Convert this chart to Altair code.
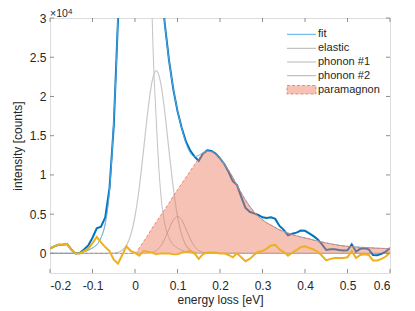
import numpy as np
import pandas as pd
import altair as alt

# energy grid (eV), step 0.01 from -0.2 to 0.6
energy = [round(-0.2 + 0.01 * i, 2) for i in range(81)]

elastic = [0, 0, 0, 0, 0, 0, 0,
           50, 200, 400, 700, 1100, 2000, 3800, 8000, 17000, 31000, 64000, 108000, 145000,
           160000,
           145000, 108000, 64000, 31000, 17000, 8000, 3800, 2000, 1100, 700, 400, 200, 50] + [0] * 47

phonon1 = [0] * 13 + [2, 10, 40, 133, 393, 1020, 2350, 4730, 8400, 13120, 18050, 21860, 23300,
                      21860, 18050, 13120, 8400, 4730, 2350, 1020, 393, 133, 40, 10, 2] + [0] * 43

phonon2 = [0] * 22 + [6, 30, 114, 355, 900, 1855, 3110, 4240, 4700, 4240, 3110, 1855, 900, 355,
                      114, 30, 6] + [0] * 42

paramagnon = [0] * 21 + [700, 1500, 2300, 3200, 4000, 4800, 5600, 6400, 7300, 8100,
                         8900, 9700, 10500, 11300, 12100, 12700, 13000, 12950, 12600, 12100,
                         11400, 10600, 9700, 8700, 7700, 6800, 6000, 5300, 4700, 4300,
                         3900, 3600, 3300, 3000, 2800, 2600, 2400, 2250, 2100, 1980,
                         1850, 1700, 1580, 1450, 1330, 1220, 1120, 1030, 960, 900,
                         860, 820, 780, 750, 720, 690, 660, 640, 620, 600]

fit = [0, 0, 0, 0, 0, 0, 0,
       50, 200, 400, 700, 1100, 2000, 3802, 8010, 17040, 31133, 64393, 109020, 147350,
       164730, 154100, 122626, 84380, 56174, 44655, 35560, 29305, 24630, 21040,
       18230, 15890, 14030, 12798, 12333, 12495, 12824, 13032, 12956,
       12600, 12100, 11400, 10600, 9700, 8700, 7700, 6800, 6000, 5300, 4700, 4300,
       3900, 3600, 3300, 3000, 2800, 2600, 2400, 2250, 2100, 1980,
       1850, 1700, 1580, 1450, 1330, 1220, 1120, 1030, 960, 900,
       860, 820, 780, 750, 720, 690, 660, 640, 620, 600]

residual = [600, 900, 1100, 1100, 1200, 500, 0, 0, 300, 600,
            1300, 2100, 1400, 800, 300, -800, -1300, -200, 900, 300,
            100, -300, 300, 200, 100, -100, 0, 0, 0, -100,
            -100, 100, 200, 300, 0, -700, -100, 100, 100, 100,
            0, 0, -200, -500, 0, -500, -1000, -700, -200, 200,
            300, 600, 1000, 1100, 500, 200, -300, 100, 400, 800,
            900, 700, 500, 200, -300, -900, -700, -600, -600, -600,
            -500, 300, -600, -200, -100, -200, -900, -900, -700, -400,
            100]

data = [600, 900, 1100, 1100, 1200, 500, 0, 50, 500, 1000,
        2000, 3200, 3400, 4600, 8310, 16240, 29830, 64190, 109920, 147650,
        164830, 153800, 122930, 84580, 56270, 44560, 35560, 29300, 24630, 20940,
        18130, 15990, 14230, 13100, 12330, 11800, 12720, 13130, 13060, 12700,
        12100, 11400, 10400, 9200, 8700, 7200, 5800, 5300, 5100, 4900,
        4600, 4500, 4600, 4400, 3500, 3000, 2300, 2500, 2650, 2900,
        2880, 2550, 2200, 1780, 1150, 430, 520, 520, 430, 360,
        400, 1160, 220, 580, 650, 520, -210, -240, -60, 220,
        700]

x_ticks = [-0.2, -0.1, 0.0, 0.1, 0.2, 0.3, 0.4, 0.5, 0.6]
y_ticks = [0, 5000, 10000, 15000, 20000, 25000, 30000]

df = pd.DataFrame({
    "E": energy, "elastic": elastic, "ph1": phonon1, "ph2": phonon2,
    "para": paramagnon, "fit": fit, "res": residual, "data": data,
})

W, H = 340, 255
FONT = "Liberation Sans"
TXT = "#262626"
AX = "#8f8f8f"

xs = alt.Scale(domain=[-0.2, 0.6], nice=False, zero=False)
ys = alt.Scale(domain=[-2500, 30000], nice=False, zero=False)

x_axis = alt.Axis(values=x_ticks, ticks=False, tickSize=0, domain=False, grid=False,
                  labelFont=FONT, labelFontSize=12, labelColor=TXT, labelPadding=7,
                  labelExpr="datum.value < -0.001 ? '-' + format(-datum.value, '.1f') : (abs(datum.value) < 0.001 ? '0' : format(datum.value, '.1f'))",
                  title="energy loss [eV]", titleFont=FONT, titleFontSize=12, titleFontWeight="normal",
                  titleColor=TXT, titleY=21, titleBaseline="top")
y_axis = alt.Axis(values=y_ticks, ticks=False, tickSize=0, domain=False, grid=False,
                  labelFont=FONT, labelFontSize=12, labelColor=TXT, labelPadding=4,
                  labelExpr="datum.value == 0 ? '0' : format(datum.value / 10000, '~g')",
                  title="intensity [counts]", titleFont=FONT, titleFontSize=12, titleFontWeight="normal",
                  titleColor=TXT, titleX=-26, titleY=H / 2, titleAngle=270, titleBaseline="bottom")

base = alt.Chart(df)
X = alt.X("E:Q", scale=xs, axis=x_axis)


def Y(field):
    return alt.Y(f"{field}:Q", scale=ys, axis=y_axis)


def line(field, color, width, interp="linear", dash=None, opacity=1.0):
    kw = dict(color=color, strokeWidth=width, clip=True, interpolate=interp, opacity=opacity)
    if dash:
        kw["strokeDash"] = dash
    return base.mark_line(**kw).encode(x=X, y=Y(field))


layers = [
    line("elastic", "#b3b3b3", 0.8, "monotone"),
    line("ph1", "#c8c8c8", 1.2, "monotone"),
    line("ph2", "#a8a8a8", 0.8, "monotone"),
    line("data", "#0072BD", 2.0),
    line("fit", "#56aee6", 0.9, "monotone"),
    base.mark_area(color="#e8785a", opacity=0.45, clip=True, interpolate="monotone").encode(
        x=X, y=Y("para"), y2=alt.datum(0)),
    line("para", "#e8785a", 1.0, "monotone", dash=[3, 2], opacity=0.85),
    line("res", "#EDB120", 2.0),
]

# inward tick marks on all four sides
xt = alt.Chart(pd.DataFrame({"E": x_ticks}))
yt = alt.Chart(pd.DataFrame({"v": y_ticks}))
layers += [
    xt.mark_rule(color=AX, strokeWidth=1).encode(x=X, y=alt.value(H), y2=alt.value(H - 4)),
    xt.mark_rule(color=AX, strokeWidth=1).encode(x=X, y=alt.value(0), y2=alt.value(4)),
    yt.mark_rule(color=AX, strokeWidth=1).encode(y=Y("v"), x=alt.value(0), x2=alt.value(4)),
    yt.mark_rule(color=AX, strokeWidth=1).encode(y=Y("v"), x=alt.value(W), x2=alt.value(W - 4)),
]

# legend
one = alt.Chart(pd.DataFrame({"k": [0]}))
LX1, LX2, LT = 237, 266, 268
legend_items = [
    ("fit", 16.3, "#56aee6", 1.0),
    ("elastic", 30.3, "#b3b3b3", 1.0),
    ("phonon #1", 44.0, "#d4d4d4", 1.6),
    ("phonon #2", 57.7, "#b3b3b3", 1.0),
]
for label, yy, col, w in legend_items:
    layers.append(one.mark_rule(color=col, strokeWidth=w).encode(
        x=alt.value(LX1), x2=alt.value(LX2), y=alt.value(yy)))
    layers.append(one.mark_text(align="left", baseline="middle", font=FONT, fontSize=11, color=TXT).encode(
        x=alt.value(LT), y=alt.value(yy), text=alt.value(label)))
layers.append(one.mark_rect(fill="#e8785a", fillOpacity=0.45, stroke="#e8785a", strokeOpacity=0.8,
                            strokeDash=[3, 2], strokeWidth=1).encode(
    x=alt.value(LX1), x2=alt.value(LX2), y=alt.value(67.5), y2=alt.value(76)))
layers.append(one.mark_text(align="left", baseline="middle", font=FONT, fontSize=11, color=TXT).encode(
    x=alt.value(LT), y=alt.value(72), text=alt.value("paramagnon")))

# exponent label
layers.append(one.mark_text(align="left", baseline="alphabetic", font=FONT, fontSize=10.5, color=TXT).encode(
    x=alt.value(0), y=alt.value(-1.5), text=alt.value("×10")))
layers.append(one.mark_text(align="left", baseline="alphabetic", font=FONT, fontSize=8, color=TXT).encode(
    x=alt.value(18), y=alt.value(-4), text=alt.value("4")))

chart = alt.layer(*layers).properties(
    width=W, height=H,
    padding={"left": 42, "top": 10, "right": 10, "bottom": 36},
    autosize=alt.AutoSizeParams(type="none"),
).configure_view(stroke=AX, strokeWidth=1).configure(background="white")

chart.save("out.html", embed_options={"renderer": "svg", "actions": False})
